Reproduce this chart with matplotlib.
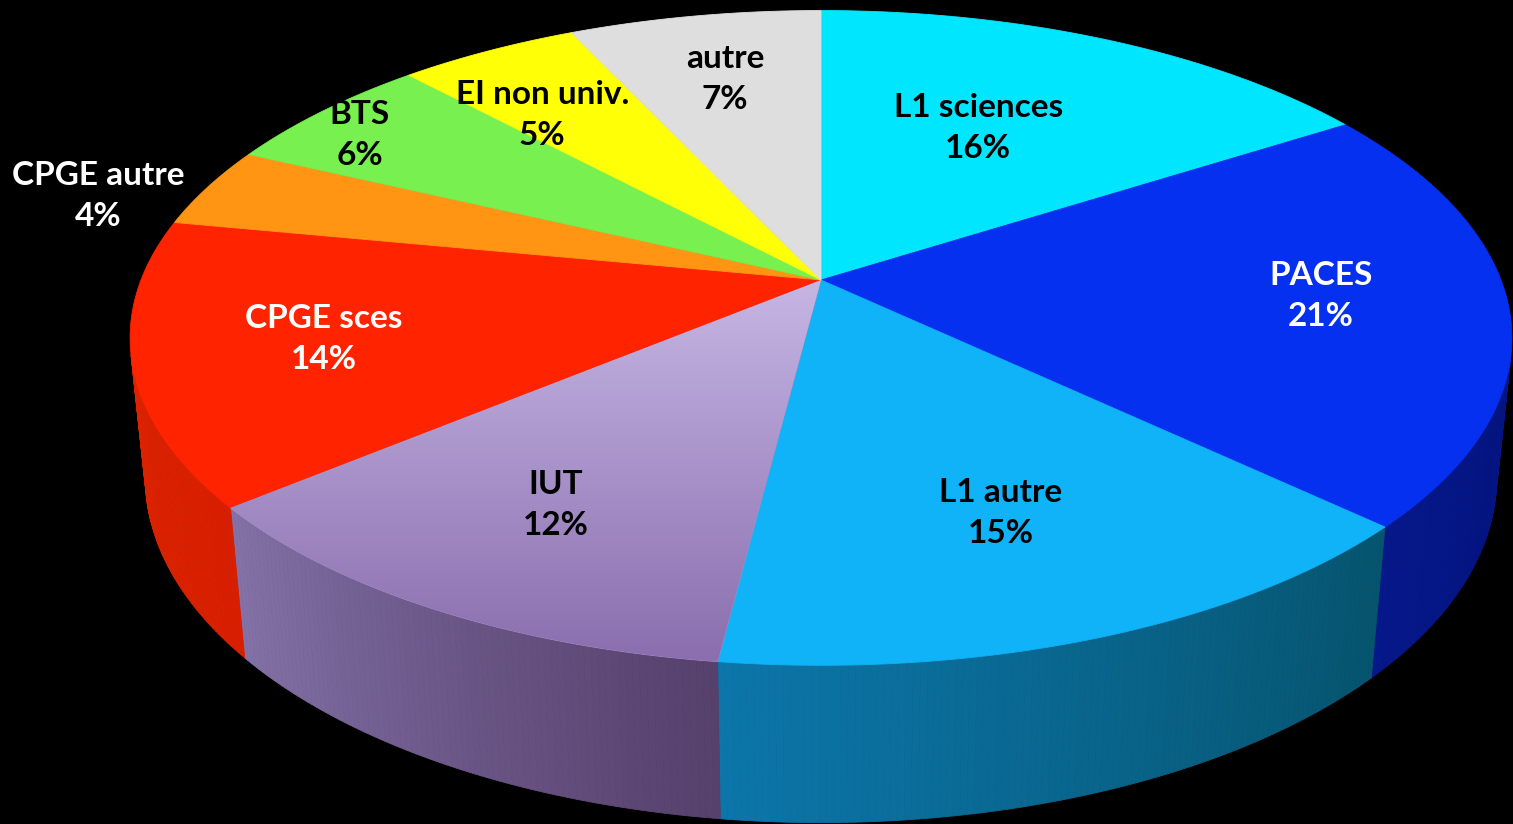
import numpy as np
import matplotlib

matplotlib.use("Agg")
import matplotlib.pyplot as plt
from matplotlib.patches import Polygon
from matplotlib.collections import PolyCollection
from matplotlib.colors import to_rgb

labels = ["L1 sciences", "PACES", "L1 autre", "IUT", "CPGE sces",
          "CPGE autre", "BTS", "EI non univ.", "autre"]
percents = [16, 21, 15, 12, 14, 4, 6, 5, 7]

top_colors = ["#00E6FF", "#0530F0", "#10B2F8", "#A893CB", "#FF2300",
              "#FF9512", "#78F050", "#FFFF05", "#DEDEDE"]
# couleurs des parois (gauche, droite)
wall_colors = [("#00A0B8", "#008098"), ("#06188A", "#000E70"),
               ("#0C76AA", "#06546E"), ("#8472A8", "#56406C"),
               ("#E02600", "#D82000"), ("#C07000", "#C07000"),
               ("#50B030", "#50B030"), ("#C0C000", "#C0C000"),
               ("#A0A0A0", "#A0A0A0")]
text_colors = ["black", "white", "black", "black", "white",
               "white", "black", "black", "black"]
# position des étiquettes : rayon relatif + décalage angulaire (deg)
label_r = [0.58, 0.73, 0.69, 0.72, 0.73, 1.15, 0.89, 0.73, 0.73]
label_dt = [3, 1.5, 0, 0, 0, 4, 2, 4, 0]

# caméra perspective
ELEV = np.radians(27.8)
DIST = 5.0
FOCAL = 3400.0
CX, CY = 821.0, 280.0
THICK = 0.235
W, H = 1513, 824


def project(x, y, z=0.0):
    c, s = np.cos(ELEV), np.sin(ELEV)
    ry = y + DIST * c
    rz = z - DIST * s
    depth = ry * c - rz * s
    yc = ry * s + rz * c
    return CX + FOCAL * x / depth, CY - FOCAL * yc / depth


def arc(t0, t1, z=0.0, n=None):
    n = n or max(int(abs(t1 - t0) * 2), 2)
    th = np.radians(np.linspace(t0, t1, n))
    return project(np.cos(th), np.sin(th), z)


def mix(c0, c1, f):
    a, b = np.array(to_rgb(c0)), np.array(to_rgb(c1))
    return tuple(a + (b - a) * f)


fig = plt.figure(figsize=(W / 100, H / 100), dpi=100, facecolor="black")
ax = fig.add_axes([0, 0, 1, 1])
ax.set_facecolor("black")
ax.set_xlim(0, W)
ax.set_ylim(H, 0)
ax.axis("off")

cum = np.concatenate([[0], np.cumsum(percents)]) * 3.6
# angle monde : départ en haut, sens horaire
starts = 90 - cum[:-1]
ends = 90 - cum[1:]

# parois latérales (partie visible uniquement)
lim = -np.degrees(np.arcsin(1 / (DIST * np.cos(ELEV))))
vis_lo, vis_hi = -180 - lim, lim
polys, cols = [], []
for i in range(len(percents)):
    a0, a1 = min(starts[i], vis_hi), max(ends[i], vis_lo)
    if a0 <= a1:
        continue
    steps = np.linspace(a0, a1, max(int((a0 - a1) * 2), 2))
    for k in range(len(steps) - 1):
        th = np.radians(steps[k:k + 2])
        xt, yt = project(np.cos(th), np.sin(th), 0.0)
        xb, yb = project(np.cos(th), np.sin(th), -THICK)
        polys.append([(xt[0], yt[0]), (xt[1], yt[1]), (xb[1], yb[1]), (xb[0], yb[0])])
        f = (steps[k] - ends[i]) / (starts[i] - ends[i])
        cols.append(mix(wall_colors[i][0], wall_colors[i][1], f))
ax.add_collection(PolyCollection(polys, facecolors=cols, edgecolors=cols, linewidths=0.6))

# faces supérieures
ax0, ay0 = project(0.0, 0.0)
for i in range(len(percents)):
    xs, ys = arc(starts[i], ends[i])
    pts = np.column_stack([np.r_[ax0, xs], np.r_[ay0, ys]])
    poly = Polygon(pts, closed=True, facecolor=top_colors[i],
                   edgecolor=top_colors[i], linewidth=0.6)
    ax.add_patch(poly)
    if labels[i] == "IUT":
        ymin, ymax = pts[:, 1].min(), pts[:, 1].max()
        grad = np.linspace(0, 1, 200)[:, None, None]
        c0, c1 = np.array(to_rgb("#C6B6E4")), np.array(to_rgb("#8A6EAE"))
        img = c0 + (c1 - c0) * grad
        im = ax.imshow(img, extent=(pts[:, 0].min(), pts[:, 0].max(), ymax, ymin),
                       aspect="auto", interpolation="bilinear", zorder=1.5)
        im.set_clip_path(poly)

# étiquettes
for i in range(len(percents)):
    mid = np.radians((starts[i] + ends[i]) / 2 + label_dt[i])
    lx, ly = project(label_r[i] * np.cos(mid), label_r[i] * np.sin(mid))
    ax.text(lx, ly, f"{labels[i]}\n{percents[i]}%", ha="center", va="center",
            fontsize=24, fontweight="bold", family=["Lato", "DejaVu Sans"],
            color=text_colors[i], linespacing=1.5, zorder=5)

ax.set_xlim(0, W)
ax.set_ylim(H, 0)
fig.savefig("out.png", dpi=100, facecolor="black")
